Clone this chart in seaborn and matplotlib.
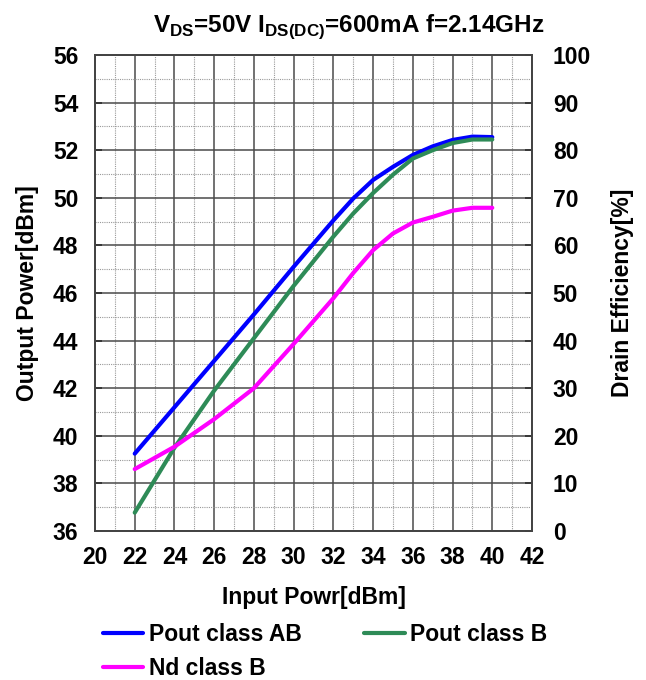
import matplotlib
matplotlib.use("Agg")
import matplotlib.pyplot as plt
import seaborn as sns
import pandas as pd
from matplotlib.ticker import MultipleLocator

pin = [22, 24, 26, 28, 30, 32, 33, 34, 35, 36, 37, 38, 39, 40]
pout_ab = [39.25, 41.2, 43.15, 45.1, 47.1, 49.05, 49.97, 50.75, 51.3, 51.8, 52.16, 52.43, 52.57, 52.55]
pout_b = [36.77, 39.5, 41.9, 44.1, 46.3, 48.37, 49.34, 50.2, 50.97, 51.65, 52.0, 52.3, 52.45, 52.45]
nd_b = [13.0, 17.7, 23.5, 30.0, 39.3, 48.9, 54.2, 59.0, 62.5, 64.8, 66.0, 67.3, 67.9, 67.9]

title = r"V$_{\mathbf{DS}}$=50V I$_{\mathbf{DS(DC)}}$=600mA f=2.14GHz"
xlabel = "Input Powr[dBm]"
ylabel_l = "Output Power[dBm]"
ylabel_r = "Drain Efficiency[%]"
labels = ["Pout class AB", "Pout class B", "Nd class B"]
colors = ["#0000FF", "#2E8B57", "#FF00FF"]

sns.set_theme(style="white")
plt.rcParams["font.family"] = ["Liberation Sans", "DejaVu Sans"]
plt.rcParams["mathtext.fontset"] = "custom"
plt.rcParams["mathtext.bf"] = "Liberation Sans:bold"
plt.rcParams["mathtext.rm"] = "Liberation Sans:bold"
plt.rcParams["text.color"] = "black"
plt.rcParams["axes.labelcolor"] = "black"
plt.rcParams["xtick.labelcolor"] = "black"
plt.rcParams["ytick.labelcolor"] = "black"

df = pd.DataFrame({"pin": pin, "ab": pout_ab, "b": pout_b, "nd": nd_b})

fig = plt.figure(figsize=(6.46, 6.8), dpi=100)
ax = fig.add_axes([95/646, 1-531/680, (532-95)/646, (531-55)/680])
ax2 = ax.twinx()

sns.lineplot(data=df, x="pin", y="ab", ax=ax, color=colors[0], lw=3, label=labels[0], legend=False)
sns.lineplot(data=df, x="pin", y="b", ax=ax, color=colors[1], lw=3, label=labels[1], legend=False)
sns.lineplot(data=df, x="pin", y="nd", ax=ax2, color=colors[2], lw=3, label=labels[2], legend=False)

ax.set_xlim(20, 42)
ax.set_ylim(36, 56)
ax2.set_ylim(0, 100)
ax.xaxis.set_major_locator(MultipleLocator(2))
ax.xaxis.set_minor_locator(MultipleLocator(1))
ax.yaxis.set_major_locator(MultipleLocator(2))
ax.yaxis.set_minor_locator(MultipleLocator(1))
ax2.yaxis.set_major_locator(MultipleLocator(10))

ax.grid(which="major", color="#4a4a4a", lw=1.1, ls="-")
ax.grid(which="minor", color="#999999", lw=0.8, ls=(0, (1, 1)))
ax.set_axisbelow(True)
ax2.grid(False)

for a in (ax, ax2):
    for s in a.spines.values():
        s.set_color("#444444")
        s.set_linewidth(1.3)

ax.tick_params(axis="y", which="major", direction="in", length=5, width=1.3,
               color="#333333", labelcolor="black", labelsize=16.5, pad=12)
ax.tick_params(axis="x", which="major", direction="in", length=5, width=1.3,
               color="#333333", labelcolor="black", labelsize=16.5, pad=11)
ax.tick_params(axis="both", which="minor", length=0)
ax2.tick_params(axis="y", which="major", direction="in", length=5, width=1.3,
                color="#333333", labelcolor="black", labelsize=16.5, pad=15)
for t in ax.get_xticklabels() + ax.get_yticklabels() + ax2.get_yticklabels():
    t.set_fontweight("bold")

ax.set_xlabel(xlabel, fontsize=16.5, fontweight="bold", labelpad=12, color="black")
ax.set_ylabel(ylabel_l, fontsize=16.5, fontweight="bold", labelpad=10, color="black")
ax2.set_ylabel(ylabel_r, fontsize=16.5, fontweight="bold", labelpad=14, color="black")
ax.set_title(title, fontsize=17.5, fontweight="bold", pad=17, x=0.58, color="black")

h1, l1 = ax.get_legend_handles_labels()
h2, l2 = ax2.get_legend_handles_labels()
hs = h1 + h2
ls = l1 + l2
order = [0, 2, 1]
fig.legend([hs[i] for i in order], [ls[i] for i in order], loc="upper left",
           bbox_to_anchor=(0.16, 0.084),
           ncol=2, frameon=False, prop={"weight": "bold", "size": 16.5},
           handlelength=1.75, handletextpad=0.22, columnspacing=2.75, labelspacing=0.5,
           borderaxespad=0, borderpad=0, labelcolor="black")

fig.savefig("out.png", dpi=100)
